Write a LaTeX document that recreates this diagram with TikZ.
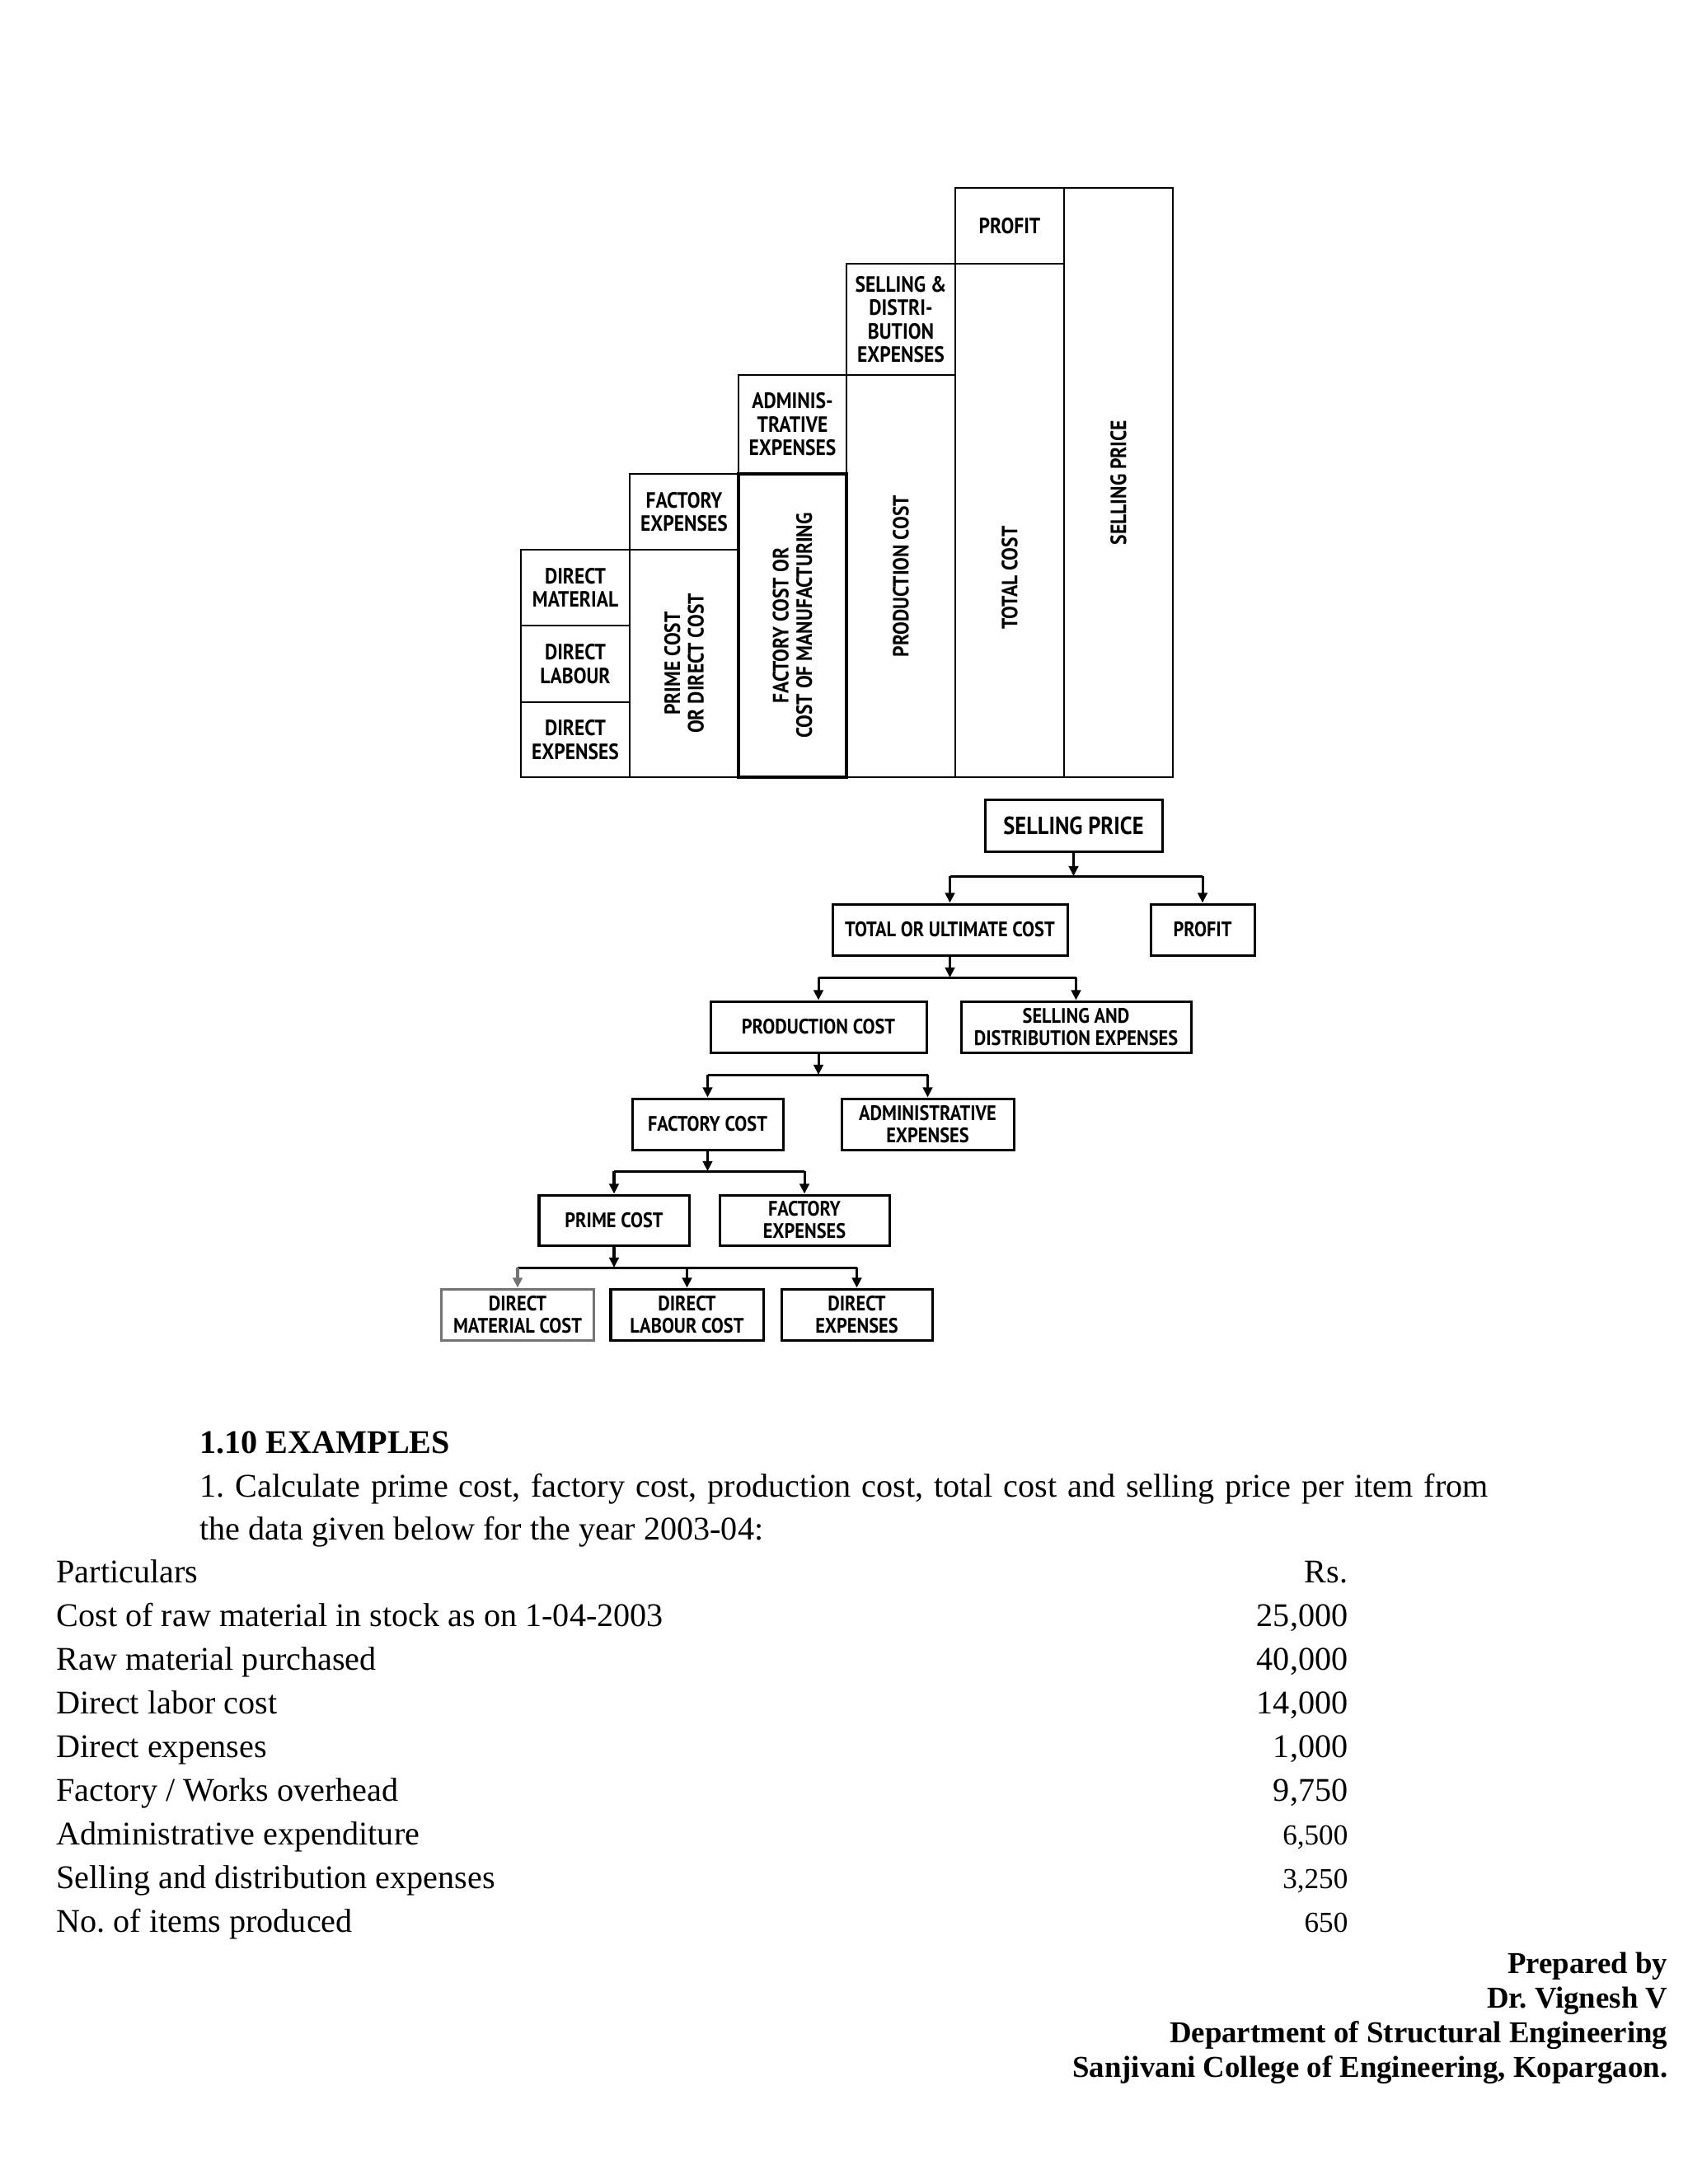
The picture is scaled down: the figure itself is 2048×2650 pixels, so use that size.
\documentclass[tikz,border=0pt]{standalone}
\usepackage{fontspec}
\setmainfont{Liberation Serif}
\newfontfamily\dfont{PT Sans}[FakeStretch=0.88]
\usetikzlibrary{arrows.meta}
\def\pxu{0.298828pt}
\tikzset{
 cell/.style={draw, line width=0.7pt, inner sep=0pt, align=center, font=\dfont\bfseries\fontsize{8.0}{8.5}\selectfont},
 stxt/.style={inner sep=0pt, align=center, font=\dfont\bfseries\fontsize{8.0}{8.5}\selectfont},
 wh/.style 2 args={minimum width=#1*\pxu, minimum height=#2*\pxu},
 tbox/.style={draw, line width=0.9pt, inner sep=0pt, align=center, font=\dfont\bfseries\fontsize{7.6}{8.1}\selectfont},
 link/.style={line width=0.9pt},
 arr/.style={line width=0.9pt, -{Triangle[length=3.6pt, width=3.4pt]}},
 body/.style={inner sep=0pt, font=\fontsize{12}{14}\selectfont},
 lrow/.style={body, anchor=base west},
 rnum/.style={body, anchor=base east},
 snum/.style={inner sep=0pt, anchor=base east, font=\fontsize{10.5}{12}\selectfont},
 foot/.style={inner sep=0pt, anchor=base east, font=\bfseries\fontsize{11}{13}\selectfont},
}
\begin{document}
\frenchspacing
\begin{tikzpicture}[x=\pxu, y=-\pxu]
\fill[white] (0,0) rectangle (2048,2650);
\useasboundingbox (0,0) rectangle (2048,2650);

% ---------------- staircase ----------------
\node[cell, wh={132}{92}] (dm) at (698,713) {DIRECT\\MATERIAL};
\node[cell, wh={132}{93}] (dl) at (698,805.5) {DIRECT\\LABOUR};
\node[cell, wh={132}{91}] (de) at (698,897.5) {DIRECT\\EXPENSES};
\node[cell, wh={132}{92}] (fe) at (830,621) {FACTORY\\EXPENSES};
\node[cell, wh={132}{276}] (pc) at (830,805) {};
\node[stxt, rotate=90] (pct) at (pc.center) {PRIME COST\\OR DIRECT COST};
\node[cell, wh={131}{120}] (ad) at (961.5,515) {ADMINIS-\\TRATIVE\\EXPENSES};
\node[cell, line width=1.1pt, wh={131}{368}] (fc) at (961.5,759) {};
\node[stxt, rotate=90] (fct) at (fc.center) {FACTORY COST OR\\COST OF MANUFACTURING};
\node[cell, wh={132}{135}] (sd) at (1093,387.5) {SELLING \&\\DISTRI-\\BUTION\\EXPENSES};
\node[cell, wh={132}{488}] (pd) at (1093,699) {};
\node[stxt, rotate=90] (pdt) at (pd.center) {PRODUCTION COST};
\node[cell, wh={132}{92}] (pf) at (1225,274) {PROFIT};
\node[cell, wh={132}{623}] (tc) at (1225,631.5) {};
\node[stxt, rotate=90] (tct) at (1225,701) {TOTAL COST};
\node[cell, wh={132}{715}] (sp) at (1357,585.5) {};
\node[stxt, rotate=90] (spt) at (sp.center) {SELLING PRICE};

% ---------------- tree ----------------
\node[tbox, wh={215}{63}, font=\dfont\bfseries\fontsize{9}{10}\selectfont] (tsp) at (1302.5,1001.5) {SELLING PRICE};
\node[tbox, wh={285}{62}] (ttot) at (1152.5,1128) {TOTAL OR ULTIMATE COST};
\node[tbox, wh={126}{62}] (tpro) at (1459,1128) {PROFIT};
\node[tbox, wh={262}{62}] (tpd) at (993,1246) {PRODUCTION COST};
\node[tbox, wh={279}{62}] (tsd) at (1305.5,1246) {SELLING AND\\DISTRIBUTION EXPENSES};
\node[tbox, wh={183}{62}] (tfc) at (858.5,1364) {FACTORY COST};
\node[tbox, wh={209}{62}] (tad) at (1125.5,1364) {ADMINISTRATIVE\\EXPENSES};
\node[tbox, wh={182}{61}] (tpc) at (745,1480.5) {PRIME COST};
\node[tbox, wh={206}{61}] (tfe) at (976,1480.5) {FACTORY\\EXPENSES};
\node[tbox, draw=black!55, wh={185}{62}] (tdm) at (628,1595) {DIRECT\\MATERIAL COST};
\node[tbox, wh={185}{62}] (tdl) at (833.5,1595) {DIRECT\\LABOUR COST};
\node[tbox, wh={183}{62}] (tde) at (1039.5,1595) {DIRECT\\EXPENSES};

\coordinate (j1) at (1302.5,1063);
\coordinate (j2) at (1152.5,1186);
\coordinate (j3) at (993,1304);
\coordinate (j4) at (858.5,1421);
\coordinate (j5) at (745,1538);

\draw[arr] (tsp.south) -- (tsp.south |- j1);
\draw[link] (ttot.north |- j1) -- (tpro.north |- j1);
\draw[arr] (ttot.north |- j1) -- (ttot.north);
\draw[arr] (tpro.north |- j1) -- (tpro.north);

\draw[arr] (ttot.south) -- (ttot.south |- j2);
\draw[link] (tpd.north |- j2) -- (tsd.north |- j2);
\draw[arr] (tpd.north |- j2) -- (tpd.north);
\draw[arr] (tsd.north |- j2) -- (tsd.north);

\draw[arr] (tpd.south) -- (tpd.south |- j3);
\draw[link] (tfc.north |- j3) -- (tad.north |- j3);
\draw[arr] (tfc.north |- j3) -- (tfc.north);
\draw[arr] (tad.north |- j3) -- (tad.north);

\draw[arr] (tfc.south) -- (tfc.south |- j4);
\draw[link] (tpc.north |- j4) -- (tfe.north |- j4);
\draw[arr] (tpc.north |- j4) -- (tpc.north);
\draw[arr] (tfe.north |- j4) -- (tfe.north);

\draw[arr] (tpc.south) -- (tpc.south |- j5);
\draw[link] (tdm.north |- j5) -- (tde.north |- j5);
\draw[arr, draw=black!55, fill=black!55] (tdm.north |- j5) -- (tdm.north);
\draw[arr] (tdl.north |- j5) -- (tdl.north);
\draw[arr] (tde.north |- j5) -- (tde.north);

% ---------------- text ----------------
\node[lrow, font=\bfseries\fontsize{12}{14}\selectfont] (hd) at (242,1763) {1.10 EXAMPLES};
\node[lrow] (q1) at (242,1816) {\makebox[467.1pt][s]{1. Calculate prime cost, factory cost, production cost, total cost and selling price per item from}};
\node[lrow] (q2) at (242,1868) {the data given below for the year 2003-04:};

\node[lrow] (r0) at (68,1920) {Particulars};
\node[lrow] (r1) at (68,1973) {Cost of raw material in stock as on 1-04-2003};
\node[lrow] (r2) at (68,2026) {Raw material purchased};
\node[lrow] (r3) at (68,2079) {Direct labor cost};
\node[lrow] (r4) at (68,2132) {Direct expenses};
\node[lrow] (r5) at (68,2185) {Factory / Works overhead};
\node[lrow] (r6) at (68,2238) {Administrative expenditure};
\node[lrow] (r7) at (68,2291) {Selling and distribution expenses};
\node[lrow] (r8) at (68,2344) {No. of items produced};

\node[rnum] (v0) at (1636,1920) {Rs.};
\node[rnum] (v1) at (1636,1973) {25,000};
\node[rnum] (v2) at (1636,2026) {40,000};
\node[rnum] (v3) at (1636,2079) {14,000};
\node[rnum] (v4) at (1636,2132) {1,000};
\node[rnum] (v5) at (1636,2185) {9,750};
\node[snum] (v6) at (1636,2238) {6,500};
\node[snum] (v7) at (1636,2291) {3,250};
\node[snum] (v8) at (1636,2344) {650};

\node[foot] (f1) at (2024,2394) {Prepared by};
\node[foot] (f2) at (2024,2436) {Dr. Vignesh V};
\node[foot] (f3) at (2024,2478) {Department of Structural Engineering};
\node[foot] (f4) at (2024,2520) {Sanjivani College of Engineering, Kopargaon.};
\end{tikzpicture}
\end{document}
